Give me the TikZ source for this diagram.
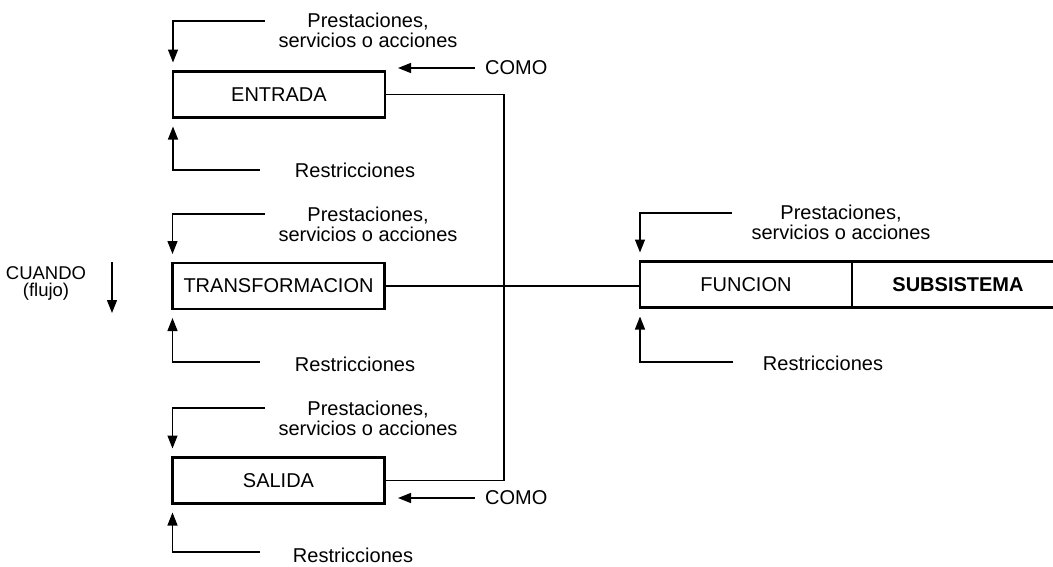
\documentclass[tikz,border=0pt]{standalone}
\usepackage{fontspec}
\setmainfont{Liberation Sans}
\usetikzlibrary{arrows.meta,calc}
\begin{document}
\begin{tikzpicture}[x=1pt,y=-1pt,
  font=\fontsize{20}{20}\selectfont,
  box/.style={draw,line width=2.8pt,outer sep=0pt,inner sep=0pt,
    minimum width=212pt,minimum height=46pt},
  thin/.style={line width=1.3pt},
  tip/.style={thin,-{Triangle[length=13pt,width=10pt]}},
  lbl/.style={align=center,inner sep=0pt}]
\useasboundingbox (0,0) rectangle (1053,566);
\clip (0,0) rectangle (1053,566);

% main stages
\node[box] (en) at (279,94.5) {ENTRADA};
\node[box] (tr) at (278.5,286) {TRANSFORMACION};
\node[box] (sa) at (278.5,480.5) {SALIDA};
\node[box] (fu) at (746,284.5) {FUNCION};
\node[box,font=\fontsize{20}{20}\selectfont\bfseries] (su) at (958,284.5) {SUBSISTEMA};

% flow direction
\node[lbl,font=\fontsize{18.5}{17}\selectfont] (cu) at (46,283.5) {CUANDO\\(flujo)};
\coordinate (cuA) at (112,262);
\coordinate (cuB) at (112,313);
\draw[tip] (cuA) -- (cuB);

% feedback loops: services on top, restrictions below
\node[lbl] (enP) at (368,30) {Prestaciones,\\servicios o acciones};
\node[lbl] (enR) at (355,170) {Restricciones};
\coordinate (enPl) at (265,21);
\coordinate (enRl) at (260,170);
\draw[tip] (enPl) -| ($(en.north west)+(0,-9)$);
\draw[tip] (enRl) -| ($(en.south west)+(0,9)$);

\node[lbl] (trP) at (368,224) {Prestaciones,\\servicios o acciones};
\node[lbl] (trR) at (355,364) {Restricciones};
\coordinate (trPl) at (265,214);
\coordinate (trRl) at (260,362);
\draw[tip] (trPl) -| ($(tr.north west)+(0,-9)$);
\draw[tip] (trRl) -| ($(tr.south west)+(0,9)$);

\node[lbl] (saP) at (368,418) {Prestaciones,\\servicios o acciones};
\node[lbl] (saR) at (353,555) {Restricciones};
\coordinate (saPl) at (265,408);
\coordinate (saRl) at (260,552);
\draw[tip] (saPl) -| ($(sa.north west)+(0,-9)$);
\draw[tip] (saRl) -| ($(sa.south west)+(0,9)$);

\node[lbl] (fuP) at (841,222) {Prestaciones,\\servicios o acciones};
\node[lbl] (fuR) at (823,363) {Restricciones};
\coordinate (fuPl) at (732,213);
\coordinate (fuRl) at (733,362);
\draw[tip] (fuPl) -| ($(fu.north west)+(0,-9)$);
\draw[tip] (fuRl) -| ($(fu.south west)+(0,9)$);

% how: inputs from the right
\node[lbl,anchor=west] (c1) at (485,68) {COMO};
\node[lbl,anchor=west] (c2) at (485,498) {COMO};
\coordinate (c1e) at (398,68);
\coordinate (c2e) at (398,498);
\draw[tip] ($(c1.west)+(-10,0)$) -- (c1e);
\draw[tip] ($(c2.west)+(-10,0)$) -- (c2e);

% links between the stages and the function
\coordinate (bus) at (504,286);
\draw[thin] (en.east) -| (bus) |- (sa.east);
\draw[thin] (tr.east) -- (tr.east -| fu.west);
\end{tikzpicture}
\end{document}
